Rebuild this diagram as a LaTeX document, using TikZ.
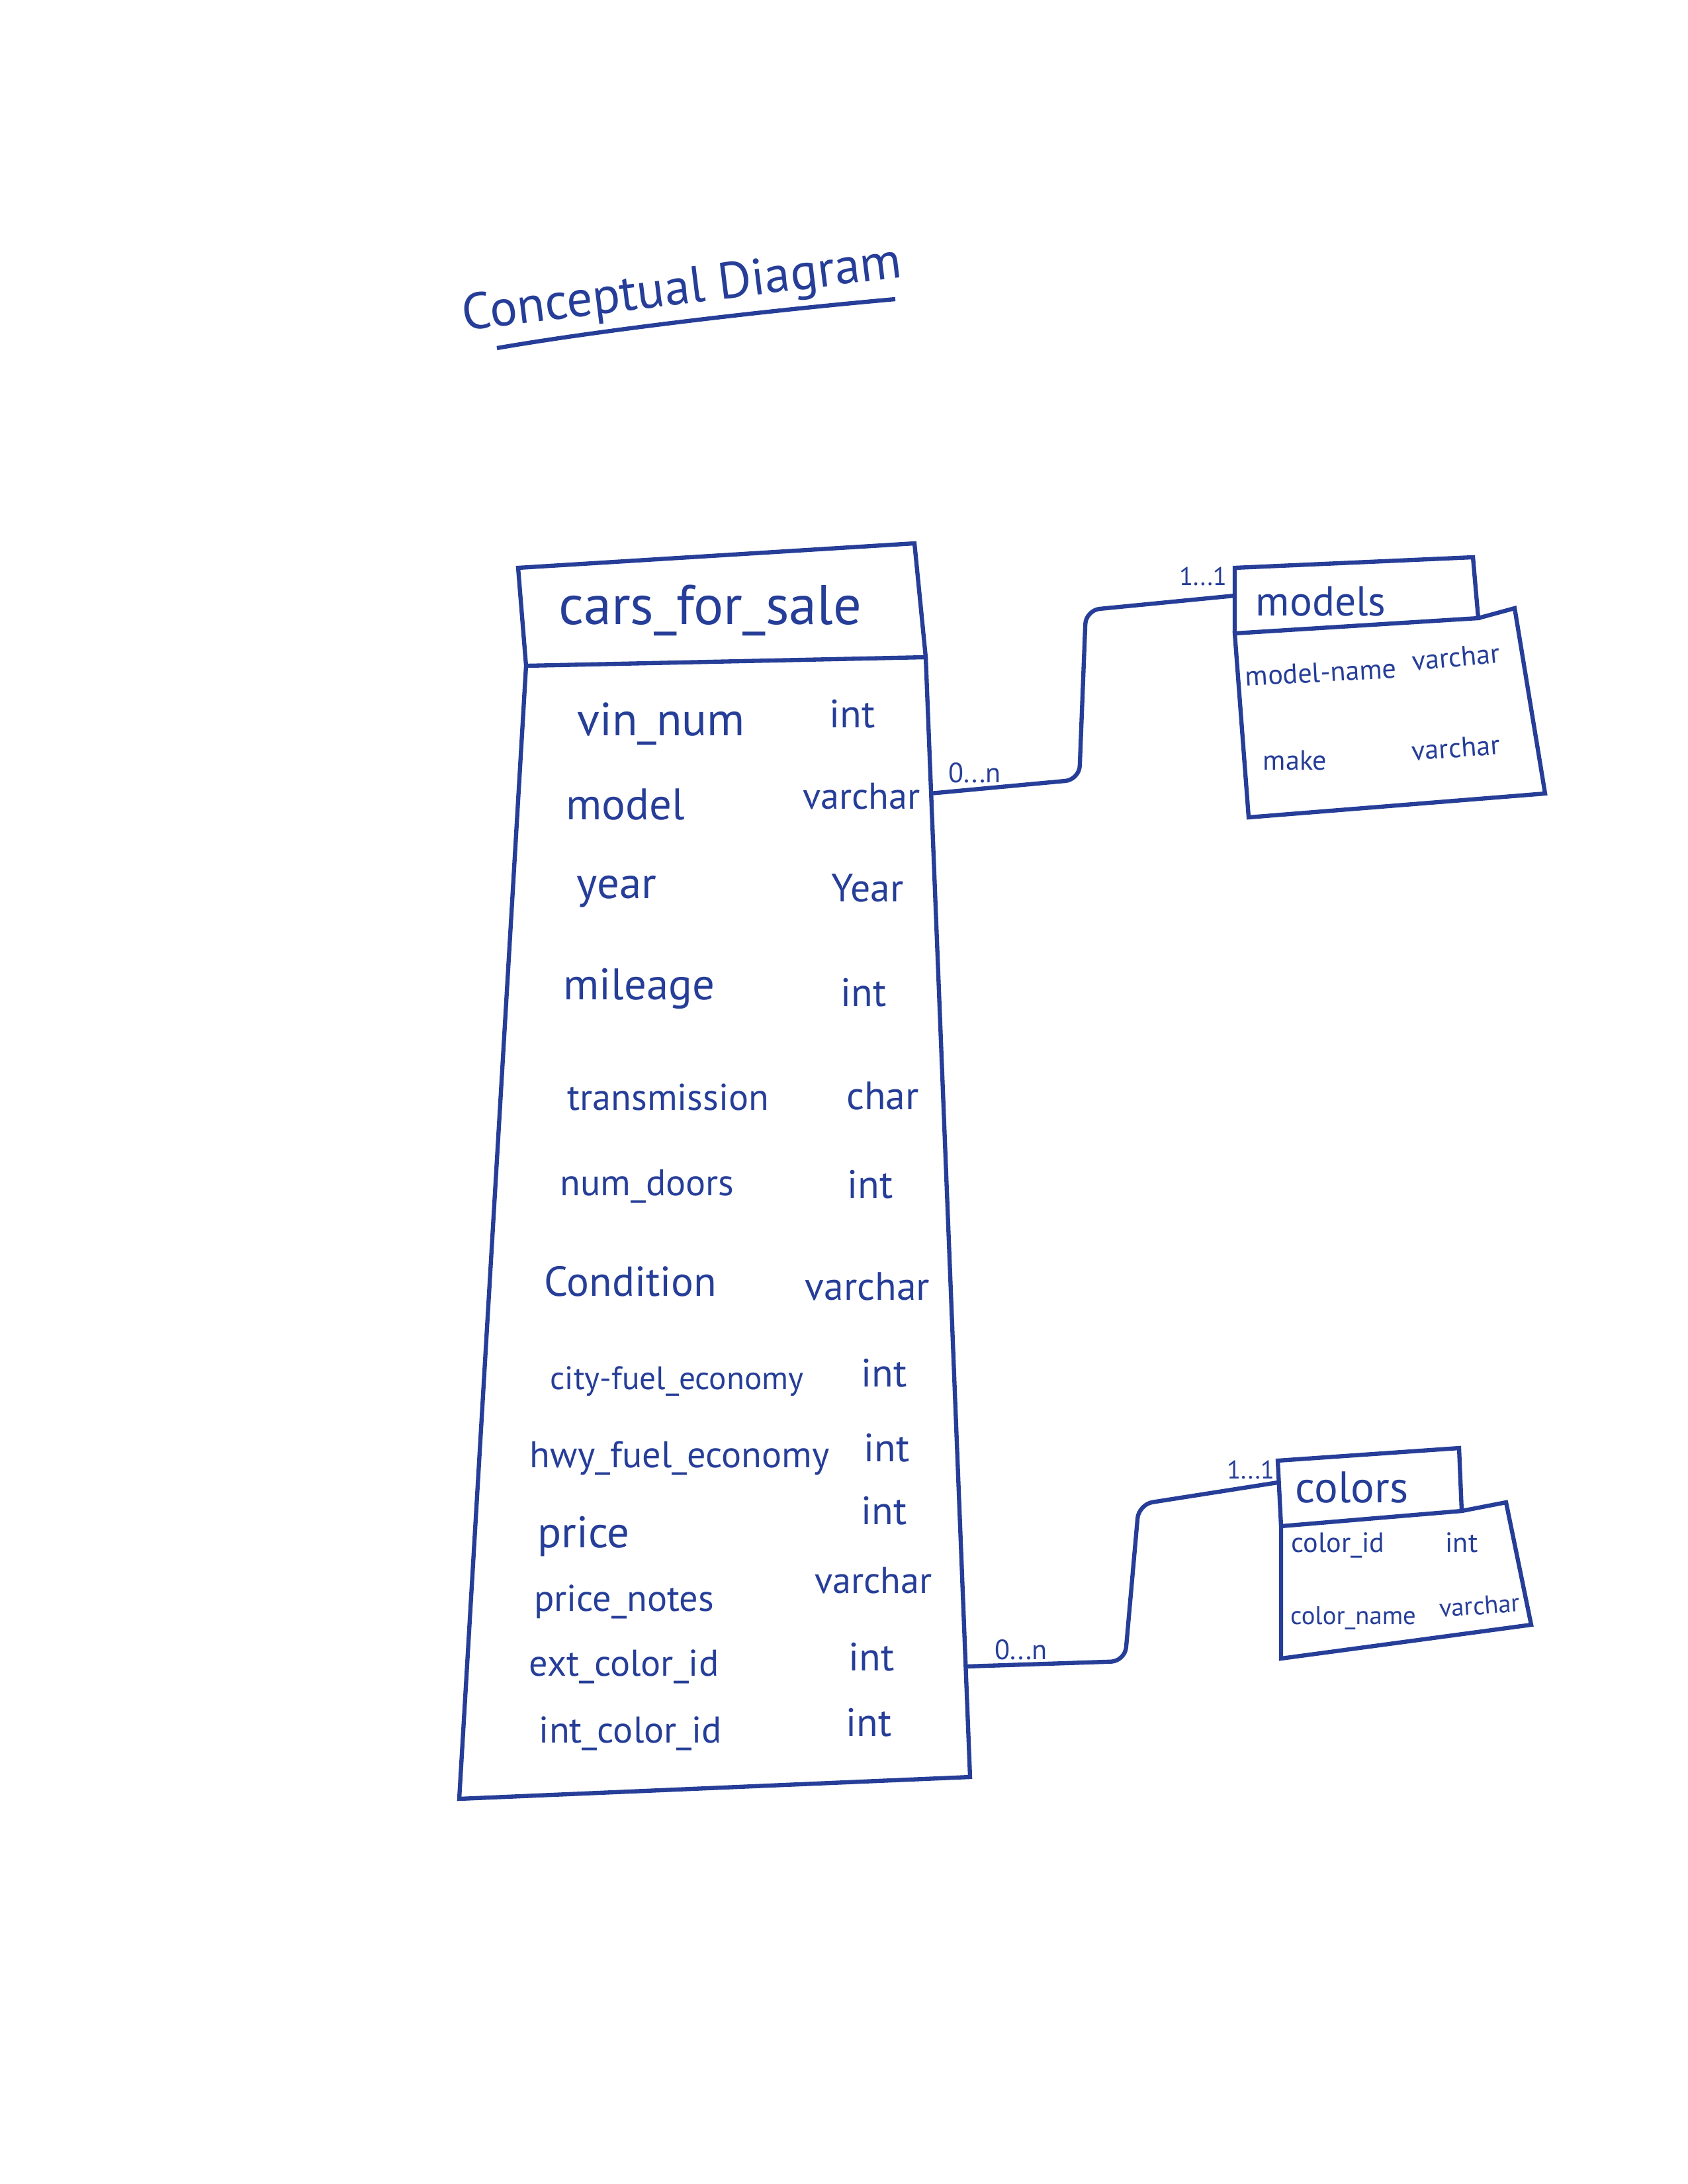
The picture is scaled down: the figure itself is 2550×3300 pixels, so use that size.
\documentclass[tikz,border=0pt]{standalone}
\usepackage{fontspec}
\setmainfont{PT Sans}
\usetikzlibrary{positioning}
\definecolor{tinta}{RGB}{38,62,152}

\begin{document}
\begin{tikzpicture}[x=0.01cm, y=-0.01cm, line width=1.8pt, color=tinta,
  every node/.style={inner sep=0pt, text=tinta},
  titulo/.style={font=\fontsize{22}{26}\selectfont},
  tabla/.style={font=\fontsize{24}{28}\selectfont},
  campo/.style={font=\fontsize{19}{23}\selectfont},
  medio/.style={font=\fontsize{16}{19}\selectfont},
  chico/.style={font=\fontsize{14}{17}\selectfont},
  tipo/.style={font=\fontsize{17}{20}\selectfont},
  mini/.style={font=\fontsize{12}{14}\selectfont},
  card/.style={font=\fontsize{11}{13}\selectfont}]
  \useasboundingbox (0,0) rectangle (2550,3300);

  % Titulo
  \node[titulo, rotate=7] (titulo) at (1031,440) {Conceptual Diagram};
  \draw (751,526) .. controls (900,500) and (1150,470) .. (1353,452);

  % Tablas
  \coordinate (cfs-a) at (783,858);
  \coordinate (cfs-b) at (1382,821);
  \coordinate (cfs-c) at (1399,993);
  \coordinate (cfs-d) at (795,1006);
  \coordinate (cfs-e) at (694,2718);
  \coordinate (cfs-f) at (1466,2685);
  \draw (cfs-d) -- (cfs-a) -- (cfs-b) -- (cfs-c) -- (cfs-d) -- (cfs-e) -- (cfs-f) -- (cfs-c);

  \coordinate (mod-a) at (1866,858);
  \coordinate (mod-b) at (2226,842);
  \coordinate (mod-c) at (2234,934);
  \coordinate (mod-d) at (1866,957);
  \coordinate (mod-e) at (2289,919);
  \coordinate (mod-f) at (2335,1199);
  \coordinate (mod-g) at (1887,1235);
  \draw (mod-d) -- (mod-a) -- (mod-b) -- (mod-c) -- (mod-d) -- (mod-g) -- (mod-f) -- (mod-e) -- (mod-c);

  \coordinate (col-a) at (1931,2207);
  \coordinate (col-b) at (2205,2188);
  \coordinate (col-c) at (2209,2283);
  \coordinate (col-d) at (1936,2306);
  \coordinate (col-e) at (2276,2270);
  \coordinate (col-f) at (2314,2455);
  \coordinate (col-g) at (1936,2506);
  \draw (col-d) -- (col-a) -- (col-b) -- (col-c) -- (col-d) -- (col-g) -- (col-f) -- (col-e) -- (col-c);

  \node[tabla] (cars) at (1073,922) {cars\_for\_sale};
  \node[tabla, font=\fontsize{18}{22}\selectfont] (models) at (1996,909) {models};
  \node[tabla, font=\fontsize{19}{23}\selectfont] (colors) at (2043,2247) {colors};

  % Campos cars_for_sale
  \node[campo, font=\fontsize{20}{24}\selectfont] (f-vin) at (999,1094) {vin\_num};
  \node[tipo] (t-vin) at (1288,1079) {int};
  \node[campo] (f-model) at (945,1216) {model};
  \node[tipo, font=\fontsize{16}{19}\selectfont] (t-model) at (1302,1203) {varchar};
  \node[campo] (f-year) at (932,1347) {year};
  \node[tipo] (t-year) at (1311,1342) {Year};
  \node[campo] (f-mileage) at (966,1494) {mileage};
  \node[tipo] (t-mileage) at (1305,1500) {int};
  \node[medio] (f-trans) at (1010,1658) {transmission};
  \node[tipo] (t-trans) at (1334,1656) {char};
  \node[medio] (f-doors) at (978,1793) {num\_doors};
  \node[tipo] (t-doors) at (1315,1790) {int};
  \node[campo, font=\fontsize{18}{22}\selectfont] (f-cond) at (953,1936) {Condition};
  \node[tipo] (t-cond) at (1311,1944) {varchar};
  \node[chico] (f-city) at (1023,2087) {city-fuel\_economy};
  \node[tipo] (t-city) at (1336,2075) {int};
  \node[medio] (f-hwy) at (1027,2203) {hwy\_fuel\_economy};
  \node[tipo] (t-hwy) at (1340,2188) {int};
  \node[campo] (f-price) at (882,2321) {price};
  \node[tipo] (t-price) at (1336,2283) {int};
  \node[medio] (f-notes) at (943,2420) {price\_notes};
  \node[tipo, font=\fontsize{16}{19}\selectfont] (t-notes) at (1320,2388) {varchar};
  \node[medio] (f-ext) at (943,2518) {ext\_color\_id};
  \node[tipo] (t-ext) at (1317,2504) {int};
  \node[medio] (f-int) at (953,2619) {int\_color\_id};
  \node[tipo] (t-int) at (1313,2603) {int};

  % Campos models
  \node[mini, rotate=3] (f-mname) at (1996,1016) {model-name};
  \node[mini, rotate=5] (t-mname) at (2200,993) {varchar};
  \node[mini] (f-make) at (1957,1149) {make};
  \node[mini, rotate=4] (t-make) at (2200,1130) {varchar};

  % Campos colors
  \node[card, font=\fontsize{12}{14}\selectfont] (f-cid) at (2022,2335) {color\_id};
  \node[card, font=\fontsize{12}{14}\selectfont] (t-cid) at (2209,2331) {int};
  \node[card] (f-cname) at (2045,2445) {color\_name};
  \node[card, rotate=4] (t-cname) at (2236,2426) {varchar};

  % Relaciones
  \coordinate (cars-m) at (1405,1199);
  \coordinate (mod-w) at (1866,900);
  \coordinate (cars-c) at (1460,2518);
  \coordinate (col-w) at (1931,2240);
  \draw[rounded corners=6pt] (cars-m) -- (1631,1178) -- (1641,922) -- (mod-w);
  \draw[rounded corners=6pt] (cars-c) -- (1700,2510) -- (1721,2273) -- (col-w);

  \node[mini] (n-mod) at (1473,1168) {0...n};
  \node[card] (u-mod) at (1818,871) {1...1};
  \node[mini] (n-col) at (1543,2493) {0...n};
  \node[card] (u-col) at (1890,2221) {1...1};
\end{tikzpicture}
\end{document}
